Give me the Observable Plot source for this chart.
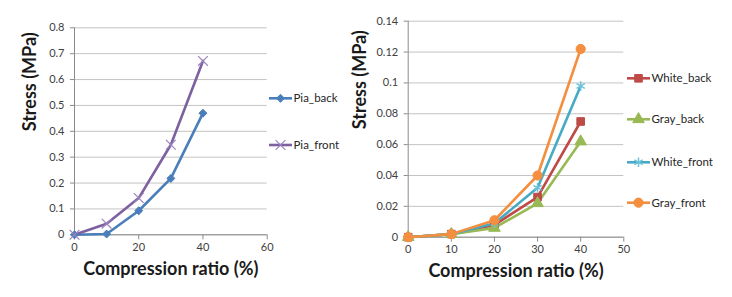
<!DOCTYPE html>
<html><head><meta charset="utf-8">
<script src="https://cdn.jsdelivr.net/npm/d3@7"></script>
<script src="https://cdn.jsdelivr.net/npm/@observablehq/plot@0.6"></script>
<style>
body{margin:0;background:#fff;}
#wrap{position:relative;width:732px;height:297px;overflow:hidden;font-family:Lato,"Open Sans",sans-serif;}
.chart{position:absolute;top:0;}
#legend{position:absolute;left:0;top:0;}
</style></head><body><div id="wrap"></div>
<script>
// ---- data ----
const ratio = [0, 10, 20, 30, 40];
const piaBack = [0, 0.003, 0.093, 0.218, 0.47];
const piaFront = [0, 0.043, 0.142, 0.348, 0.672];
const whiteBack = [0, 0.002, 0.008, 0.026, 0.075];
const grayBack = [0, 0.002, 0.006, 0.022, 0.062];
const whiteFront = [0, 0.002, 0.009, 0.032, 0.098];
const grayFront = [0, 0.002, 0.011, 0.040, 0.122];
const leftXTicks = [0, 20, 40, 60];
const leftYTicks = [0, 0.1, 0.2, 0.3, 0.4, 0.5, 0.6, 0.7, 0.8];
const rightXTicks = [0, 10, 20, 30, 40, 50];
const rightYTicks = [0, 0.02, 0.04, 0.06, 0.08, 0.1, 0.12, 0.14];
const xTitle = "Compression ratio (%)";
const yTitle = "Stress (MPa)";

// series styles
const leftSeries = [
  {name: "Pia_back", values: piaBack, color: "#4a7ebb", symbol: "diamond2", r: 3.6, mfill: "#4a7ebb", mstroke: "#4a7ebb", sw: 1},
  {name: "Pia_front", values: piaFront, color: "#7d60a0", symbol: "times", r: 4.5, mfill: "none", mstroke: "#9b84bd", sw: 1.2}
];
const rightSeries = [
  {name: "White_back", values: whiteBack, color: "#be4b48", symbol: "square", r: 4.3, mfill: "#be4b48", mstroke: "#be4b48", sw: 1},
  {name: "Gray_back", values: grayBack, color: "#98b954", symbol: "triangle", r: 4.3, mfill: "#98b954", mstroke: "#98b954", sw: 1},
  {name: "White_front", values: whiteFront, color: "#46aac5", symbol: "asterisk", r: 4.5, mfill: "none", mstroke: "#6ec3da", sw: 1.5},
  {name: "Gray_front", values: grayFront, color: "#f38f3f", symbol: "circle", r: 4.6, mfill: "#f38f3f", mstroke: "#f38f3f", sw: 1}
];

const font = "Lato, 'Open Sans', sans-serif";
const tickColor = "#404040";
const axisColor = "#8c8c8c";
const gridColor = "#c4c4c4";
const fmt = d => (d === 0 ? "0" : String(d));

function makeChart(series, opts) {
  const rows = series.flatMap(s => ratio.map((x, i) => ({series: s.name, x, y: s.values[i]})));
  const marks = [
    Plot.gridY(opts.yTicks, {stroke: gridColor, strokeOpacity: 1, strokeWidth: 1}),
    Plot.ruleX([0], {stroke: axisColor}),
    Plot.ruleY([0], {stroke: axisColor}),
    Plot.axisY(opts.yTicks, {tickSize: 4, tickPadding: 6, fontSize: 11, stroke: axisColor, fill: tickColor, label: null, tickFormat: fmt}),
    Plot.axisX(opts.xTicks, {tickSize: 5, tickPadding: 3, fontSize: 11, stroke: axisColor, fill: tickColor, label: null, tickFormat: fmt})
  ];
  for (const s of series) {
    const d = rows.filter(r => r.series === s.name);
    marks.push(Plot.line(d, {x: "x", y: "y", stroke: s.color, strokeWidth: 2.6}));
  }
  for (const s of series) {
    const d = rows.filter(r => r.series === s.name);
    marks.push(Plot.dot(d, {x: "x", y: "y", symbol: () => s.symbol, r: s.r, fill: s.mfill, stroke: s.mstroke, strokeWidth: s.sw}));
  }
  marks.push(Plot.text([xTitle], {text: d => d, frameAnchor: "bottom", dy: 40, fontSize: 18, fontWeight: "bold", fill: "#1a1a1a"}));
  marks.push(Plot.text([yTitle], {text: d => d, frameAnchor: "left", rotate: -90, dx: opts.yTitleDx, fontSize: 18, fontWeight: "bold", fill: "#1a1a1a"}));
  return Plot.plot({
    width: opts.width, height: 297,
    marginLeft: opts.ml, marginRight: opts.mr, marginTop: opts.mt, marginBottom: opts.mb,
    style: {fontFamily: font, background: "transparent", overflow: "visible"},
    x: {domain: opts.xDomain},
    y: {domain: opts.yDomain},
    symbol: {type: "identity"},
    marks
  });
}

const wrap = document.getElementById("wrap");
const c1 = makeChart(leftSeries, {width: 270, ml: 74, mr: 3.3, mt: 27.3, mb: 62.7, xDomain: [0, 60], yDomain: [0, 0.8], xTicks: leftXTicks, yTicks: leftYTicks, yTitleDx: -44});
c1.classList.add("chart"); c1.style.left = "0px";
const c2 = makeChart(rightSeries, {width: 270, ml: 47.7, mr: 270 - 263.3, mt: 20.7, mb: 297 - 236.7, xDomain: [0, 50], yDomain: [0, 0.14], xTicks: rightXTicks, yTicks: rightYTicks, yTitleDx: -47.5});
c2.classList.add("chart"); c2.style.left = "360px";
wrap.appendChild(c1); wrap.appendChild(c2);

// ---- legends ----
const symMap = {diamond2: d3.symbolDiamond2, times: d3.symbolTimes, square: d3.symbolSquare, triangle: d3.symbolTriangle, asterisk: d3.symbolAsterisk, circle: d3.symbolCircle};
const svg = d3.select(wrap).append("svg").attr("id", "legend").attr("width", 732).attr("height", 297)
  .style("font-family", font);
function legend(series, x0, ys) {
  series.forEach((s, i) => {
    const y = ys[i];
    const g = svg.append("g");
    g.append("line").attr("x1", x0).attr("x2", x0 + 23).attr("y1", y).attr("y2", y).attr("stroke", s.color).attr("stroke-width", 2.6);
    g.append("path").attr("d", d3.symbol(symMap[s.symbol], Math.PI * s.r * s.r)())
      .attr("transform", `translate(${x0 + 11.5},${y})`)
      .attr("fill", s.mfill).attr("stroke", s.mstroke).attr("stroke-width", s.sw);
    g.append("text").attr("x", x0 + 24.5).attr("y", y).attr("dy", "0.35em").attr("font-size", 11.5).attr("fill", "#262626").text(s.name);
  });
}
legend(leftSeries, 269, [98.3, 145]);
legend(rightSeries, 627, [78.3, 119.3, 162.3, 202.7]);
</script>
</body></html>
